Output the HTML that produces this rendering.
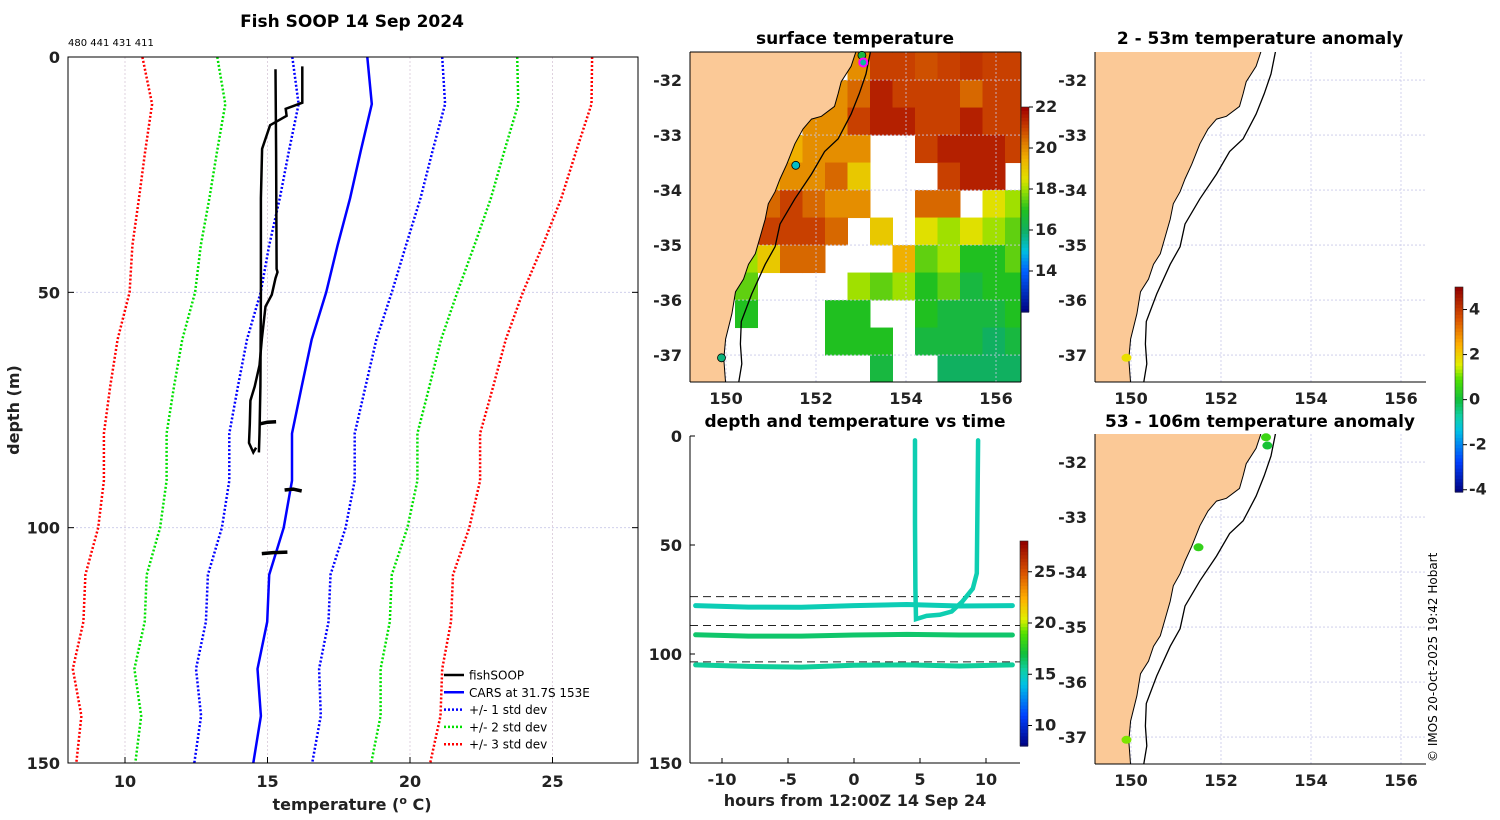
<!DOCTYPE html>
<html><head><meta charset="utf-8"><style>
html,body{margin:0;padding:0;background:#fff;}
svg{display:block;font-family:"DejaVu Sans","Liberation Sans",sans-serif;}
.t{font-weight:bold;font-size:16px;fill:#222;}
.ti{font-weight:bold;font-size:17px;fill:#000;}
</style></head><body>
<svg id="fig" width="1500" height="820" viewBox="0 0 1500 820" xmlns="http://www.w3.org/2000/svg"></svg>
<script>
// ---- profile panel data ----
const depths=[0,10,20,30,40,50,60,70,80,90,100,110,120,130,140,150];
const carsMean=[18.5,18.66,18.27,17.9,17.46,17.06,16.55,16.2,15.86,15.86,15.57,15.06,14.99,14.65,14.77,14.5];
const carsStd=[2.63,2.57,2.52,2.47,2.4,2.3,2.27,2.24,2.2,2.2,2.17,2.15,2.15,2.16,2.1,2.07];
const fishA_T=[16.22,16.22,15.64,15.67,15.09,14.81,14.77,14.77,14.75,14.72,14.7];
const fishA_D=[2,9.7,11,12.5,14.5,19.5,30,50,70,80,84];
const fishB_T=[15.28,15.3,15.32,15.35,15.28,15.15,14.93,14.8,14.72,14.55,14.4,14.38,14.35,14.5,14.6];
const fishB_D=[2.6,20,45,45.7,47,50.5,53,60,65.5,70,73,78,82,84,83];
const blobT1=[14.7,15.0,15.3];const blobD1=[78,77.6,77.5];
const blobT2=[15.6,15.9,16.2];const blobD2=[92,91.8,92.2];
const blobT3=[14.8,15.2,15.7];const blobD3=[105.5,105.3,105.2];
const xTicks=[10,15,20,25];const yTicks=[0,50,100,150];
// ---- time panel data ----
const trackHours=[-12,-8,-4,0,4,8,12];
const track1Depth=[77.8,78.5,78.6,77.8,77.3,78,77.8];
const track2Depth=[91.2,91.8,91.8,91.3,91,91.3,91.3];
const track3Depth=[105,105.7,106,105.2,105,105.5,105];
const trackTemps=[15.1,16.3,15.6];
const profHours=[4.62,4.62,4.65,4.7,5.5,6.5,7.4,8.2,9.0,9.3,9.4];
const profDepth=[2,40,70,84,82.5,82,80.5,76,70,63,2];
const dashDepths=[73.7,86.9,103.6];
const timeTicks=[-10,-5,0,5,10];
// ---- map data ----
const coastLon=[152.89,152.78,152.56,152.49,152.41,152.12,151.9,151.71,151.53,151.35,151.2,151.09,150.94,150.87,150.76,150.65,150.5,150.39,150.21,150.13,149.99,149.95,149.99];
const coastLat=[-31.48,-31.75,-32.03,-32.25,-32.48,-32.66,-32.71,-32.89,-33.16,-33.53,-33.8,-34.03,-34.25,-34.53,-34.85,-35.16,-35.35,-35.62,-35.85,-36.25,-36.71,-37.07,-37.51];
const shelfLon=[153.21,153.11,152.96,152.78,152.49,152.19,151.9,151.53,151.2,151.09,150.87,150.57,150.34,150.32,150.35,150.28];
const shelfLat=[-31.48,-31.89,-32.25,-32.62,-33.07,-33.3,-33.71,-34.16,-34.62,-35.03,-35.35,-35.89,-36.39,-36.8,-37.16,-37.51];
const sstRows=[
[null,null,null,null,null,null,null,20,21,21,20.8,21,21.2,21,21],
[null,null,null,null,null,null,20,20.5,21.5,21,21,21,20.5,21,21],
[null,null,null,null,null,20,20,21,21.5,21.5,21,21,21.5,21,21],
[null,null,null,null,19.5,20,20,20,null,null,21,21.5,21.5,21.5,21],
[null,null,null,19.5,20,20,20.5,19,null,null,null,21,21.5,21.5,null],
[null,null,null,20.5,21,20.5,20,20,null,null,20.5,20.5,null,18.5,18],
[null,null,19,21,21,21,20.5,null,19,null,18.5,18,18.5,18,17.5],
[null,null,18,19,20.5,20.5,null,null,null,19.5,17.5,18,17,17,17.5],
[null,17,17.5,null,null,null,null,18,17.5,18,17,17.5,16.5,17,17],
[null,null,17,null,null,null,17,17,null,null,17,16.5,16.5,16.5,17],
[null,null,null,null,null,null,17,17,17,null,16.5,16.5,16.5,16,16.5],
[null,null,null,null,null,null,null,null,16.5,null,null,16,16,16,16]];
const sstLon0=149.2, sstLat0=-31.5, sstStep=0.5;
const sstPtsLon=[153.02,153.05,151.55,149.9];const sstPtsLat=[-31.55,-31.68,-33.55,-37.05];const sstPtsT=[16.5,15.5,15.2,15.8];
const anom1Lon=[149.9];const anom1Lat=[-37.05];const anom1Val=[1.8];
const anom2Lon=[153.0,153.03,151.5,149.9];const anom2Lat=[-31.55,-31.7,-33.55,-37.05];const anom2Val=[0.6,0.1,0.5,1.1];
const mapLonTicks=[150,152,154,156];const mapLatTicks=[-32,-33,-34,-35,-36,-37];

const NS='http://www.w3.org/2000/svg';
const svg=document.getElementById('fig');
function mk(tag,attrs,parent,text){const e=document.createElementNS(NS,tag);for(const k in attrs)e.setAttribute(k,attrs[k]);if(text!==undefined)e.textContent=text;(parent||svg).appendChild(e);return e;}
const stops=[[0,[0,0,127]],[0.15,[0,64,255]],[0.3,[0,192,230]],[0.37,[16,208,168]],[0.45,[16,190,60]],[0.55,[80,224,0]],[0.62,[224,240,0]],[0.72,[255,176,0]],[0.85,[216,80,0]],[1,[144,0,0]]];
const sstStops=[[0,[0,0,128]],[0.2,[0,96,255]],[0.3,[0,192,224]],[0.4,[16,176,96]],[0.5,[32,192,32]],[0.6,[160,224,0]],[0.65,[224,224,0]],[0.75,[240,176,0]],[0.82,[224,128,0]],[0.9,[200,64,0]],[1,[160,0,0]]];
function interp(st,t){t=Math.max(0,Math.min(1,t));for(let i=1;i<st.length;i++){if(t<=st[i][0]){const a=st[i-1],b=st[i];const f=(t-a[0])/(b[0]-a[0]);const c=a[1].map((v,j)=>Math.round(v+(b[1][j]-v)*f));return `rgb(${c[0]},${c[1]},${c[2]})`;}}const c=st[st.length-1][1];return `rgb(${c[0]},${c[1]},${c[2]})`;}
const cmap=t=>interp(stops,t); const scmap=t=>interp(sstStops,t);
function pts(xs,ys,fx,fy){return xs.map((x,i)=>fx(x).toFixed(1)+','+fy(ys[i]).toFixed(1)).join(' ');}

// ===== Profile panel =====
const P={x0:68,x1:638,y0:57,y1:763,t0:8,t1:28,d1:150};
const px=T=>P.x0+(T-P.t0)/(P.t1-P.t0)*(P.x1-P.x0);
const py=d=>P.y0+d/P.d1*(P.y1-P.y0);
let g=mk('g',{});

xTicks.forEach(v=>{const l=mk('line',{x1:px(v),x2:px(v),y1:P.y0,y2:P.y1,stroke:'#d8c8d8','stroke-width':0.8,'stroke-dasharray':'2,2'},g);});
yTicks.slice(1,3).forEach(v=>{const l=mk('line',{x1:P.x0,x2:P.x1,y1:py(v),y2:py(v),stroke:'#c8c8e8','stroke-width':0.8,'stroke-dasharray':'2,2'},g);});
const sd=[[3,'#ff0000'],[2,'#00e000'],[1,'#0000ff']];
sd.forEach(([k,c])=>{[-1,1].forEach(s=>{const l=mk('polyline',{points:pts(carsMean.map((m,i)=>m+s*k*carsStd[i]),depths,px,py),fill:'none',stroke:c,'stroke-width':2.5,'stroke-dasharray':'2,2'},g);});});
let l=mk('polyline',{points:pts(carsMean,depths,px,py),fill:'none',stroke:'#0000ff','stroke-width':2.5},g);

[[fishA_T,fishA_D],[fishB_T,fishB_D]].forEach(([t,d])=>{const e=mk('polyline',{points:pts(t,d,px,py),fill:'none',stroke:'#000','stroke-width':2.5},g);});
[[blobT1,blobD1],[blobT2,blobD2],[blobT3,blobD3]].forEach(([t,d])=>{const e=mk('polyline',{points:pts(t,d,px,py),fill:'none',stroke:'#000','stroke-width':3.5},g);});
mk('rect',{x:P.x0,y:P.y0,width:P.x1-P.x0,height:P.y1-P.y0,fill:'none',stroke:'#000','stroke-width':1},g);
xTicks.forEach(v=>{mk('line',{x1:px(v),x2:px(v),y1:P.y1,y2:P.y1-6,stroke:'#000'},g);const e=mk('text',{x:px(v),y:P.y1+24,'text-anchor':'middle',class:'t'},g,String(v));});
yTicks.forEach(v=>{mk('line',{x1:P.x0,x2:P.x0+6,y1:py(v),y2:py(v),stroke:'#000'},g);mk('line',{x1:P.x1,x2:P.x1-6,y1:py(v),y2:py(v),stroke:'#000'},g);const e=mk('text',{x:P.x0-8,y:py(v)+6,'text-anchor':'end',class:'t'},g,String(v));});
let e=mk('text',{x:352,y:27,'text-anchor':'middle',class:'ti'},g,'Fish SOOP 14 Sep 2024');
e=mk('text',{x:68,y:46,'font-size':'10px'},g,'480 441 431 411');
e=mk('text',{x:352,y:810,'text-anchor':'middle',class:'t','font-size':'16px'},g);e.innerHTML='temperature (<tspan font-size="11" dy="-6">o</tspan><tspan dy="6"> C)</tspan>';
e=mk('text',{x:0,y:0,'text-anchor':'middle',class:'t','font-size':'16px',transform:'translate(19,410) rotate(-90)'},g,'depth (m)');
const leg=[['fishSOOP','#000',''],['CARS at 31.7S 153E','#0000ff',''],['+/- 1 std dev','#0000ff','2,2'],['+/- 2 std dev','#00e000','2,2'],['+/- 3 std dev','#ff0000','2,2']];
leg.forEach((it,i)=>{const yy=675+i*17.3;const lg=mk('g',{},g);mk('line',{x1:444,x2:464,y1:yy,y2:yy,stroke:it[1],'stroke-width':2.5,'stroke-dasharray':it[2]||'none'},lg);mk('text',{x:469,y:yy+4.5,'font-size':'12px'},lg,it[0]);});

// ===== Maps =====
function mapAxes(x0,y0,name){
  const M={x0:x0,y0:y0,w:331,h:330,lon0:149.2,lat0:-31.49,kx:45,ky:55};
  M.fx=lon=>M.x0+(lon-M.lon0)*M.kx; M.fy=lat=>M.y0+(M.lat0-lat)*M.ky;
  const gg=mk('g',{});
  mk('clipPath',{id:'c'+name},gg);mk('rect',{x:M.x0,y:M.y0,width:M.w,height:M.h},gg.lastChild);
  M.g=gg;M.inner=mk('g',{'clip-path':'url(#c'+name+')'},gg);return M;}
function mapDecor(M,sst){
  const gg=M.inner;
  mapLonTicks.forEach(v=>mk('line',{x1:M.fx(v),x2:M.fx(v),y1:M.y0,y2:M.y0+M.h,stroke:'#c8c8e8','stroke-width':0.8,'stroke-dasharray':'2,2'},gg));
  mapLatTicks.forEach(v=>mk('line',{x1:M.x0,x2:M.x0+M.w,y1:M.fy(v),y2:M.fy(v),stroke:'#c8c8e8','stroke-width':0.8,'stroke-dasharray':'2,2'},gg));
  const land=pts(coastLon,coastLat,M.fx,M.fy)+` ${M.x0-5},${M.y0+M.h+5} ${M.x0-5},${M.y0-5}`;
  e=mk('polygon',{points:land,fill:'#fbc997',stroke:'#000','stroke-width':1},gg);
  e=mk('polyline',{points:pts(shelfLon,shelfLat,M.fx,M.fy),fill:'none',stroke:'#000','stroke-width':1.3},gg);
  mk('line',{x1:M.x0,x2:M.x0+M.w,y1:M.y0+M.h,y2:M.y0+M.h,stroke:'#000'},M.g);
  mk('line',{x1:M.x0,x2:M.x0,y1:M.y0,y2:M.y0+M.h,stroke:'#000'},M.g);
  if(sst){mk('line',{x1:M.x0,x2:M.x0+M.w,y1:M.y0,y2:M.y0,stroke:'#000'},M.g);mk('line',{x1:M.x0+M.w,x2:M.x0+M.w,y1:M.y0,y2:M.y0+M.h,stroke:'#000'},M.g);}
  mapLonTicks.forEach(v=>{const t=mk('text',{x:M.fx(v),y:M.y0+M.h+22,'text-anchor':'middle',class:'t'},M.g,String(v));});
  mapLatTicks.forEach(v=>{const t=mk('text',{x:M.x0-8,y:M.fy(v)+6,'text-anchor':'end',class:'t'},M.g,String(v));});
}
function colorbar(x,y0,y1,vmin,vmax,ticks,name,cm){
  const gg=mk('g',{});
  const n=60;for(let i=0;i<n;i++){const a=y1-(i+1)*(y1-y0)/n;mk('rect',{x:x,y:a,width:8,height:(y1-y0)/n+0.6,fill:cm((i+0.5)/n)},gg);}
  mk('rect',{x:x,y:y0,width:8,height:y1-y0,fill:'none',stroke:'#222','stroke-width':0.6},gg);
  ticks.forEach(v=>{const yy=y1-(v-vmin)/(vmax-vmin)*(y1-y0);mk('line',{x1:x+8,x2:x+12,y1:yy,y2:yy,stroke:'#000'},gg);mk('text',{x:x+14,y:yy+5,class:'t','font-size':'13px'},gg,String(v));});
}
// SST
const S=mapAxes(690,52,'sst-map');
sstRows.forEach((row,r)=>row.forEach((v,c)=>{if(v===null)return;const lon=sstLon0+c*sstStep,lat=sstLat0-r*sstStep;const cell=mk('rect',{x:S.fx(lon),y:S.fy(lat),width:sstStep*S.kx+0.5,height:sstStep*S.ky+0.5,fill:scmap((v-12)/10)},S.inner);}));
mapDecor(S,true);
sstPtsLon.forEach((lo,i)=>{const c=mk('circle',{cx:S.fx(lo),cy:S.fy(sstPtsLat[i]),r:4,fill:scmap((sstPtsT[i]-12)/10),stroke:i==1?'#ff00ff':'#000','stroke-width':i==1?2:0.8},S.g);});
e=mk('text',{x:855,y:44,'text-anchor':'middle',class:'ti','font-size':'16px'},S.g,'surface temperature');
colorbar(1021,107,312,12,22,[14,16,18,20,22],'sst-colorbar',scmap);
// anomaly maps
const A1=mapAxes(1095,52,'anomaly-map-shallow');mapDecor(A1,false);
anom1Lon.forEach((lo,i)=>{const c=mk('ellipse',{cx:A1.fx(lo),cy:A1.fy(anom1Lat[i]),rx:5,ry:4,fill:cmap((anom1Val[i]+4.1)/9.1)},A1.g);});
e=mk('text',{x:1260,y:44,'text-anchor':'middle',class:'ti','font-size':'16px'},A1.g,'2 - 53m temperature anomaly');
const A2=mapAxes(1095,434,'anomaly-map-deep');mapDecor(A2,false);
anom2Lon.forEach((lo,i)=>{const c=mk('ellipse',{cx:A2.fx(lo),cy:A2.fy(anom2Lat[i]),rx:5,ry:4,fill:cmap((anom2Val[i]+4.1)/9.1)},A2.g);});
e=mk('text',{x:1260,y:427,'text-anchor':'middle',class:'ti','font-size':'16px'},A2.g,'53 - 106m temperature anomaly');
colorbar(1455,287,492,-4.1,5,[-4,-2,0,2,4],'anomaly-colorbar',cmap);
e=mk('text',{x:0,y:0,'font-size':'12px','text-anchor':'start',transform:'translate(1437,762) rotate(-90)'},svg,'© IMOS 20-Oct-2025 19:42 Hobart');

// ===== Time panel =====
const T={x0:690,x1:1020,y0:436,y1:763};
const tx=h=>854+h*13.2; const ty=d=>T.y0+d*(T.y1-T.y0)/150;
g=mk('g',{});
dashDepths.forEach(d=>{const q=mk('line',{x1:T.x0,x2:T.x1,y1:ty(d),y2:ty(d),stroke:'#222','stroke-width':1,'stroke-dasharray':'8,5'},g);});
[track1Depth,track2Depth,track3Depth].forEach((dd,i)=>{const q=mk('polyline',{points:pts(trackHours,dd,tx,ty),fill:'none',stroke:cmap((trackTemps[i]-8)/20),'stroke-width':5,'stroke-linecap':'round'},g);});
e=mk('polyline',{points:pts(profHours,profDepth,tx,ty),fill:'none',stroke:cmap((15.2-8)/20),'stroke-width':4.5,'stroke-linecap':'round'},g);
mk('line',{x1:T.x0,x2:T.x1,y1:T.y1,y2:T.y1,stroke:'#000'},g);mk('line',{x1:T.x0,x2:T.x0,y1:T.y0,y2:T.y1,stroke:'#000'},g);
timeTicks.forEach(v=>{mk('line',{x1:tx(v),x2:tx(v),y1:T.y1,y2:T.y1-5,stroke:'#000'},g);const q=mk('text',{x:tx(v),y:T.y1+22,'text-anchor':'middle',class:'t'},g,String(v));});
yTicks.forEach(v=>{mk('line',{x1:T.x0,x2:T.x0+5,y1:ty(v),y2:ty(v),stroke:'#000'},g);const q=mk('text',{x:T.x0-8,y:ty(v)+6,'text-anchor':'end',class:'t'},g,String(v));});
e=mk('text',{x:855,y:427,'text-anchor':'middle',class:'ti','font-size':'16px'},g,'depth and temperature vs time');
e=mk('text',{x:855,y:806,'text-anchor':'middle',class:'t','font-size':'16px'},g,'hours from 12:00Z 14 Sep 24');
colorbar(1020,541,746,8,28,[10,15,20,25],'time-colorbar',cmap);
</script>
</body></html>
